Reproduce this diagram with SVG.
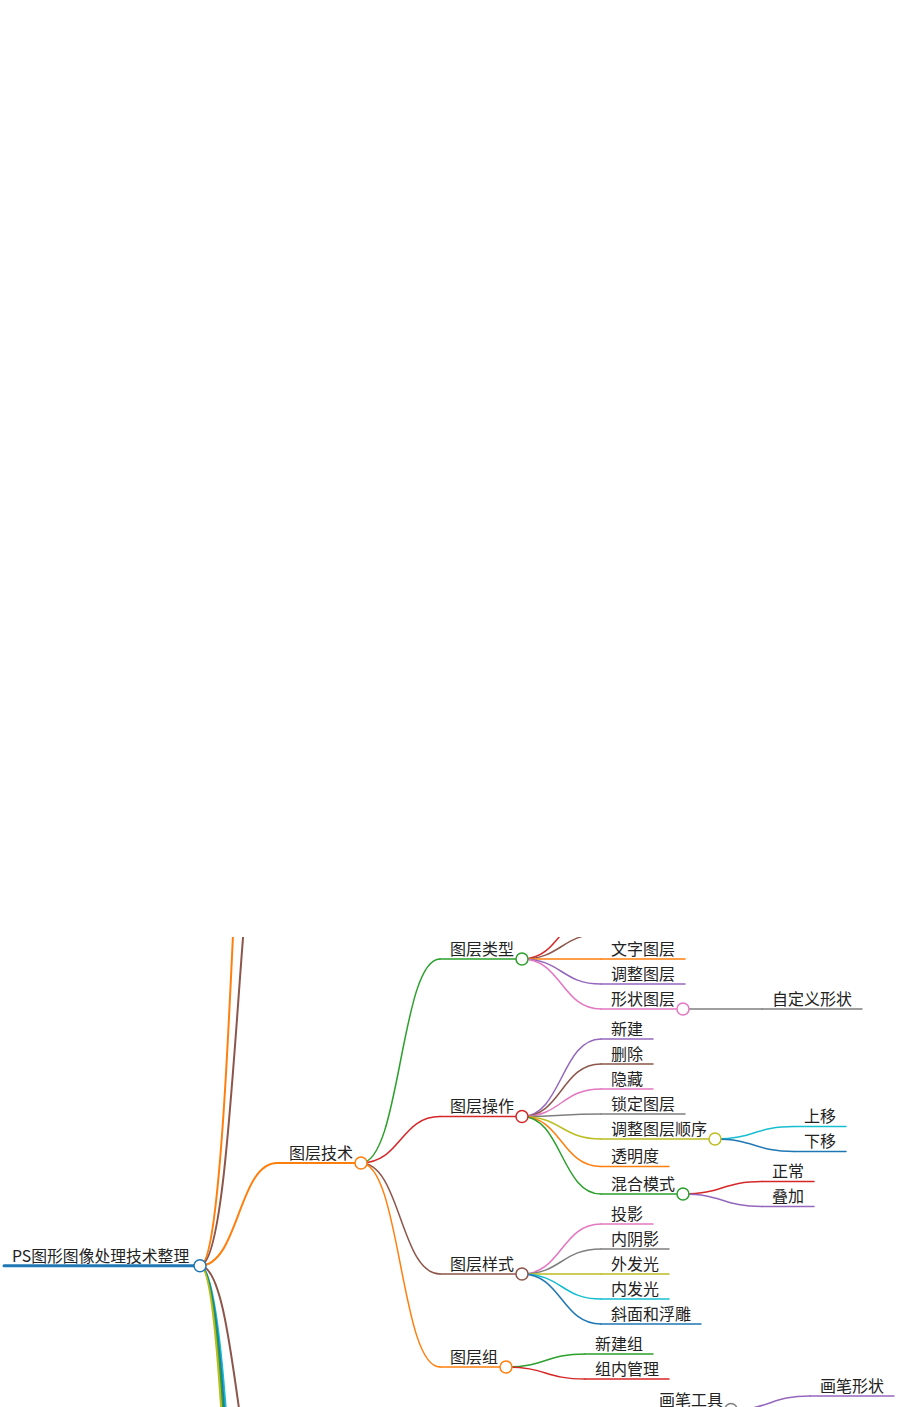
<svg xmlns="http://www.w3.org/2000/svg" width="915" height="1407" viewBox="0 0 915 1407">
<defs>
<clipPath id="vis"><rect x="0" y="937" width="915" height="470"/></clipPath>
<style>
text{font-family:"Noto Sans CJK SC","Noto Sans",sans-serif;font-size:16px;fill:#222}
.root text{font-size:15.8px}
path,line{fill:none;stroke-linecap:round}
circle{fill:#fff;stroke-width:1.5}
.l1{stroke-width:2}
.l2{stroke-width:1.5}
.blue{stroke:#1f77b4}.orange{stroke:#ff7f0e}.green{stroke:#2ca02c}.red{stroke:#d62728}.purple{stroke:#9467bd}
.brown{stroke:#8c564b}.pink{stroke:#e377c2}.grey{stroke:#7f7f7f}.olive{stroke:#bcbd22}.cyan{stroke:#17becf}
</style>
</defs>
<rect width="915" height="1407" fill="#fff"/>
<g clip-path="url(#vis)">
<g id="connectors">
<path class="l1 orange" d="M200,1265.7 C238.5,1265.7 238.5,354 277,354"/>
<path class="l1 brown" d="M200,1265.7 C238.5,1265.7 238.5,731 277,731"/>
<path class="l1 orange" d="M200,1265.7 C238.5,1265.7 238.5,1163 277,1163"/>
<path class="l1 brown" d="M200,1265.7 C238.5,1265.7 238.5,1544 277,1544"/>
<path class="l1 cyan" d="M200,1265.7 C238.5,1265.7 238.5,1959 277,1959"/>
<path class="l1 blue" d="M200,1265.7 C238.5,1265.7 238.5,2073 277,2073"/>
<path class="l1 green" d="M200,1265.7 C238.5,1265.7 238.5,2202 277,2202"/>
<path class="l1 olive" d="M200,1265.7 C238.5,1265.7 238.5,2359 277,2359"/>

<path class="l2 green" d="M361,1163 C400.5,1163 400.5,959 440,959"/>
<path class="l2 red" d="M361,1163 C400.5,1163 400.5,1116.5 440,1116.5"/>
<path class="l2 brown" d="M361,1163 C400.5,1163 400.5,1274 440,1274"/>
<path class="l2 orange" d="M361,1163 C400.5,1163 400.5,1367 440,1367"/>

<path class="l2 red" d="M522,959 C561.5,959 561.5,909 601,909"/>
<path class="l2 brown" d="M522,959 C561.5,959 561.5,934 601,934"/>
<path class="l2 orange" d="M522,959 C561.5,959 561.5,959 601,959"/>
<path class="l2 purple" d="M522,959 C561.5,959 561.5,984 601,984"/>
<path class="l2 pink" d="M522,959 C561.5,959 561.5,1009 601,1009"/>
<path class="l2 grey" d="M683,1009 C722.5,1009 722.5,1009 762,1009"/>

<path class="l2 purple" d="M522,1116.5 C561.5,1116.5 561.5,1039 601,1039"/>
<path class="l2 brown" d="M522,1116.5 C561.5,1116.5 561.5,1064 601,1064"/>
<path class="l2 pink" d="M522,1116.5 C561.5,1116.5 561.5,1089 601,1089"/>
<path class="l2 grey" d="M522,1116.5 C561.5,1116.5 561.5,1114 601,1114"/>
<path class="l2 olive" d="M522,1116.5 C561.5,1116.5 561.5,1139 601,1139"/>
<path class="l2 orange" d="M522,1116.5 C561.5,1116.5 561.5,1166.5 601,1166.5"/>
<path class="l2 green" d="M522,1116.5 C561.5,1116.5 561.5,1194 601,1194"/>

<path class="l2 cyan" d="M715,1139 C754.5,1139 754.5,1126.5 794,1126.5"/>
<path class="l2 blue" d="M715,1139 C754.5,1139 754.5,1151.5 794,1151.5"/>
<path class="l2 red" d="M683,1194 C722.5,1194 722.5,1181.5 762,1181.5"/>
<path class="l2 purple" d="M683,1194 C722.5,1194 722.5,1206.5 762,1206.5"/>

<path class="l2 pink" d="M522,1274 C561.5,1274 561.5,1224 601,1224"/>
<path class="l2 grey" d="M522,1274 C561.5,1274 561.5,1249 601,1249"/>
<path class="l2 olive" d="M522,1274 C561.5,1274 561.5,1274 601,1274"/>
<path class="l2 cyan" d="M522,1274 C561.5,1274 561.5,1299 601,1299"/>
<path class="l2 blue" d="M522,1274 C561.5,1274 561.5,1324 601,1324"/>

<path class="l2 green" d="M506,1367 C545.5,1367 545.5,1354 585,1354"/>
<path class="l2 red" d="M506,1367 C545.5,1367 545.5,1379 585,1379"/>

<path class="l2 purple" d="M731,1409.5 C770.5,1409.5 770.5,1396 810,1396"/>
</g>

<g id="n-root" class="root">
<line x1="4" y1="1265.7" x2="194" y2="1265.7" stroke="#1f77b4" stroke-width="3"/>
<text x="12" y="1261.5">PS图形图像处理技术整理</text>
<circle cx="200" cy="1265.7" r="6" class="blue"/>
</g>
<g id="n-tuceng-jishu">
<line x1="277" y1="1163" x2="355" y2="1163" class="l1 orange"/>
<text x="289" y="1158.5">图层技术</text>
<circle cx="361" cy="1163" r="6" class="orange"/>
</g>
<g id="n-tuceng-leixing">
<line x1="440" y1="959" x2="516" y2="959" class="l2 green"/>
<text x="450" y="954.5">图层类型</text>
<circle cx="522" cy="959" r="6" class="green"/>
</g>
<g id="n-wenzi"><line x1="601" y1="959" x2="685" y2="959" class="l2 orange"/><text x="611" y="954.5">文字图层</text></g>
<g id="n-tiaozheng"><line x1="601" y1="984" x2="685" y2="984" class="l2 purple"/><text x="611" y="979.5">调整图层</text></g>
<g id="n-xingzhuang">
<line x1="601" y1="1009" x2="677" y2="1009" class="l2 pink"/>
<text x="611" y="1004.5">形状图层</text>
<circle cx="683" cy="1009" r="6" class="pink"/>
</g>
<g id="n-zidingyi"><line x1="762" y1="1009" x2="862" y2="1009" class="l2 grey"/><text x="772" y="1004.5">自定义形状</text></g>

<g id="n-tuceng-caozuo">
<line x1="440" y1="1116.5" x2="516" y2="1116.5" class="l2 red"/>
<text x="450" y="1112">图层操作</text>
<circle cx="522" cy="1116.5" r="6" class="red"/>
</g>
<g id="n-xinjian"><line x1="601" y1="1039" x2="653" y2="1039" class="l2 purple"/><text x="611" y="1034.5">新建</text></g>
<g id="n-shanchu"><line x1="601" y1="1064" x2="653" y2="1064" class="l2 brown"/><text x="611" y="1059.5">删除</text></g>
<g id="n-yincang"><line x1="601" y1="1089" x2="653" y2="1089" class="l2 pink"/><text x="611" y="1084.5">隐藏</text></g>
<g id="n-suoding"><line x1="601" y1="1114" x2="685" y2="1114" class="l2 grey"/><text x="611" y="1109.5">锁定图层</text></g>
<g id="n-shunxu">
<line x1="601" y1="1139" x2="709" y2="1139" class="l2 olive"/>
<text x="611" y="1134.5">调整图层顺序</text>
<circle cx="715" cy="1139" r="6" class="olive"/>
</g>
<g id="n-shangyi"><line x1="794" y1="1126.5" x2="846" y2="1126.5" class="l2 cyan"/><text x="804" y="1122">上移</text></g>
<g id="n-xiayi"><line x1="794" y1="1151.5" x2="846" y2="1151.5" class="l2 blue"/><text x="804" y="1147">下移</text></g>
<g id="n-toumingdu"><line x1="601" y1="1166.5" x2="669" y2="1166.5" class="l2 orange"/><text x="611" y="1162">透明度</text></g>
<g id="n-hunhe">
<line x1="601" y1="1194" x2="677" y2="1194" class="l2 green"/>
<text x="611" y="1189.5">混合模式</text>
<circle cx="683" cy="1194" r="6" class="green"/>
</g>
<g id="n-zhengchang"><line x1="762" y1="1181.5" x2="814" y2="1181.5" class="l2 red"/><text x="772" y="1177">正常</text></g>
<g id="n-diejia"><line x1="762" y1="1206.5" x2="814" y2="1206.5" class="l2 purple"/><text x="772" y="1202">叠加</text></g>

<g id="n-tuceng-yangshi">
<line x1="440" y1="1274" x2="516" y2="1274" class="l2 brown"/>
<text x="450" y="1269.5">图层样式</text>
<circle cx="522" cy="1274" r="6" class="brown"/>
</g>
<g id="n-touying"><line x1="601" y1="1224" x2="653" y2="1224" class="l2 pink"/><text x="611" y="1219.5">投影</text></g>
<g id="n-neiyinying"><line x1="601" y1="1249" x2="669" y2="1249" class="l2 grey"/><text x="611" y="1244.5">内阴影</text></g>
<g id="n-waifaguang"><line x1="601" y1="1274" x2="669" y2="1274" class="l2 olive"/><text x="611" y="1269.5">外发光</text></g>
<g id="n-neifaguang"><line x1="601" y1="1299" x2="669" y2="1299" class="l2 cyan"/><text x="611" y="1294.5">内发光</text></g>
<g id="n-xiemian"><line x1="601" y1="1324" x2="701" y2="1324" class="l2 blue"/><text x="611" y="1319.5">斜面和浮雕</text></g>

<g id="n-tuceng-zu">
<line x1="440" y1="1367" x2="500" y2="1367" class="l2 orange"/>
<text x="450" y="1362.5">图层组</text>
<circle cx="506" cy="1367" r="6" class="orange"/>
</g>
<g id="n-xinjianzu"><line x1="585" y1="1354" x2="653" y2="1354" class="l2 green"/><text x="595" y="1349.5">新建组</text></g>
<g id="n-zuneiguanli"><line x1="585" y1="1379" x2="669" y2="1379" class="l2 red"/><text x="595" y="1374.5">组内管理</text></g>

<g id="n-huabi-gongju">
<text x="659" y="1406">画笔工具</text>
<circle cx="731" cy="1409.5" r="6" class="grey"/>
</g>
<g id="n-huabi-xingzhuang"><line x1="810" y1="1396" x2="894" y2="1396" class="l2 purple"/><text x="820" y="1391.5">画笔形状</text></g>
</g>
</svg>
